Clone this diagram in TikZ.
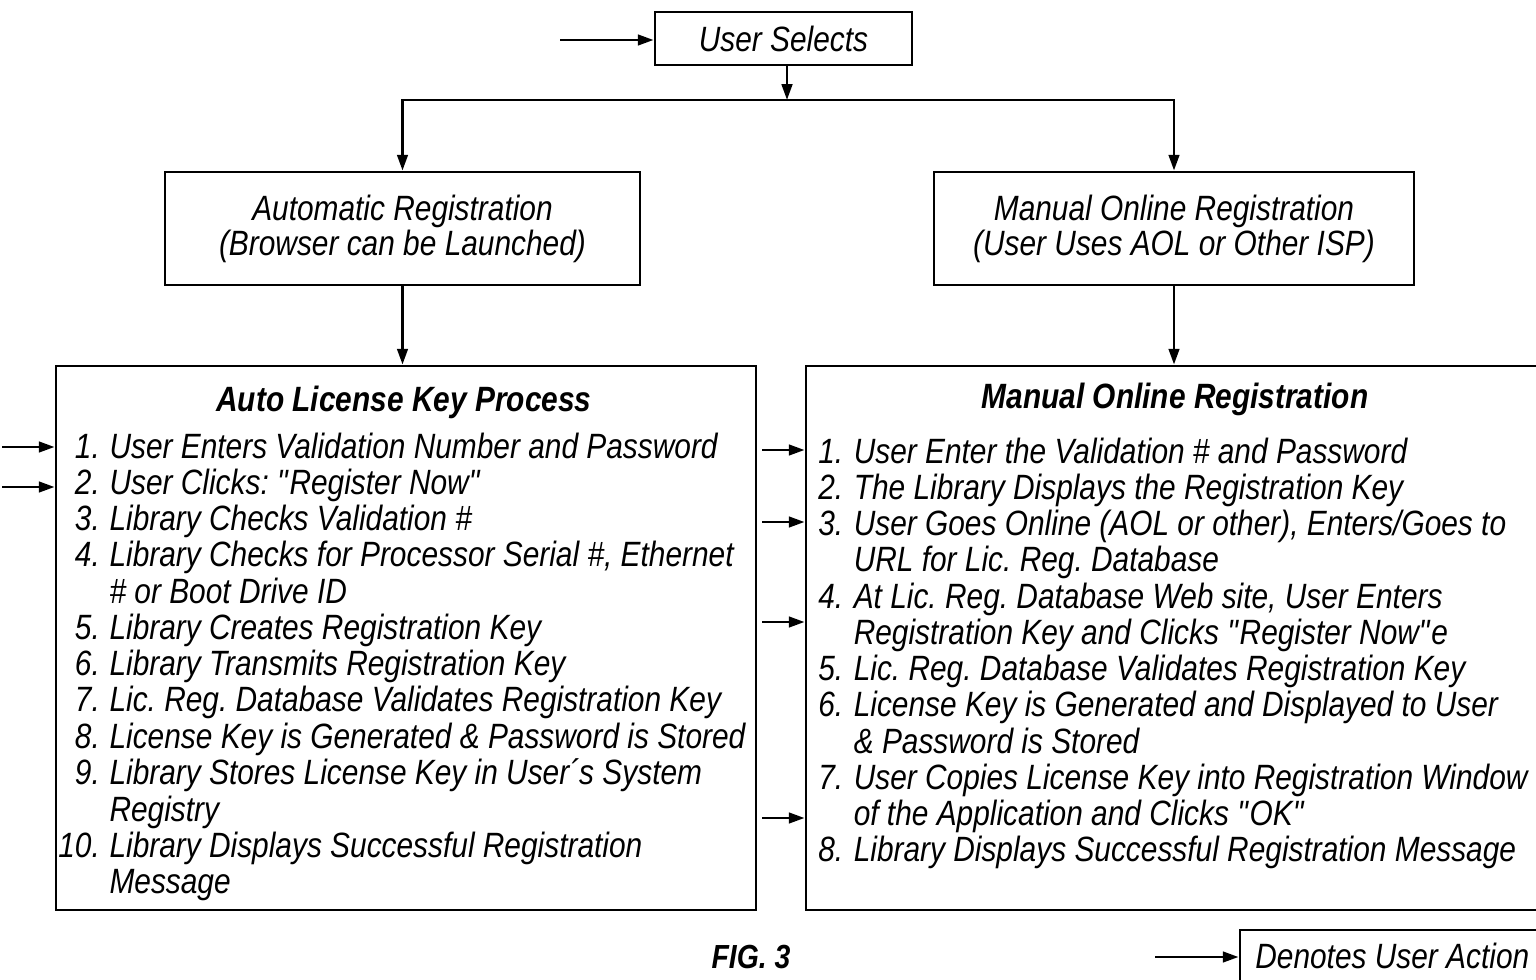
\documentclass[tikz,border=0pt]{standalone}
\usepackage{fontspec}
\setmainfont{Liberation Sans}[FakeStretch=0.85]
\usetikzlibrary{arrows.meta}
\newcommand\px{0.02cm}
\newcommand\qq{\textquotedbl}
\frenchspacing

\begin{document}
\begin{tikzpicture}[x=0.02cm,y=-0.02cm]
        \tikzstyle{box}=[draw,line width=1.6pt,inner sep=0pt,align=center,
        font=\fontsize{20}{20}\selectfont\itshape]
        \tikzstyle{txt}=[inner sep=0pt,font=\fontsize{20}{20.5}\selectfont\itshape]
        \tikzstyle{flow}=[line width=1.6pt,-{Triangle[length=9pt,width=6pt]}]
        \useasboundingbox (0,0) rectangle (1536,980);
        % top of the tree
        \node[box,minimum width=257*\px,minimum height=53*\px] (user) at (783.5,38.5) {User Selects};
        \node[box,minimum width=475*\px,minimum height=113*\px] (autoreg) at (402.5,228.5)
        {Automatic Registration\\(Browser can be Launched)};
        \node[box,minimum width=480*\px,minimum height=113*\px] (manreg) at (1174,228.5)
        {Manual Online Registration\\(User Uses AOL or Other ISP)};
        \coordinate (split) at (787,100);
        \coordinate (usertail) at (560,40);
        \draw[flow] (usertail) -- (user.west |- usertail);
        \draw[flow] (user.south -| split) -- (split);
        \draw[flow] (split) -| (autoreg.north);
        \draw[flow] (split) -| (manreg.north);
        % the two processes
        \node[box,minimum width=700*\px,minimum height=544*\px] (autoproc) at (406,638) {};
        \node[box,minimum width=739*\px,minimum height=544*\px] (manproc) at (1175.5,638) {};
        \draw[flow] (autoreg.south) -- (autoreg.south |- autoproc.north);
        \draw[flow] (manreg.south) -- (manreg.south |- manproc.north);
        \node[txt,anchor=base] (autotitle) at (404,411) {\bfseries Auto License Key Process};
        \node[txt,anchor=base] (mantitle) at (1175,408) {\bfseries Manual Online Registration};
        \node[txt,anchor=base west] (autolist) at (58,458) {\begin{tabular}[t]{@{}r@{\hspace{5.5pt}}l@{}}
        1. & User Enters Validation Number and Password\\
        2. & User Clicks: \qq Register Now\qq\\
        3. & Library Checks Validation \#\\
        4. & Library Checks for Processor Serial \#, Ethernet\\
           & \# or Boot Drive ID\\
        5. & Library Creates Registration Key\\
        6. & Library Transmits Registration Key\\
        7. & Lic. Reg. Database Validates Registration Key\\
        8. & License Key is Generated \& Password is Stored\\
        9. & Library Stores License Key in User´s System\\
           & Registry\\
        10. & Library Displays Successful Registration\\
           & Message
        \end{tabular}};
        \node[txt,anchor=base west] (manlist) at (818,463) {\begin{tabular}[t]{@{}r@{\hspace{6pt}}l@{}}
        1. & User Enter the Validation \# and Password\\
        2. & The Library Displays the Registration Key\\
        3. & User Goes Online (AOL or other), Enters/Goes to\\
           & URL for Lic. Reg. Database\\
        4. & At Lic. Reg. Database Web site, User Enters\\
           & Registration Key and Clicks \qq Register Now\qq e\\
        5. & Lic. Reg. Database Validates Registration Key\\
        6. & License Key is Generated and Displayed to User\\
           & \& Password is Stored\\
        7. & User Copies License Key into Registration Window\\
           & of the Application and Clicks \qq OK\qq\\
        8. & Library Displays Successful Registration Message
        \end{tabular}};
        % user actions
        \foreach \y [count=\i] in {447,487} {
          \coordinate (autoact\i) at (2,\y);
          \draw[flow] (autoact\i) -- (autoact\i -| autoproc.west);
        }
        \foreach \y [count=\i] in {450,522,622,818} {
          \coordinate (manact\i) at (762,\y);
          \draw[flow] (manact\i) -- (manact\i -| manproc.west);
        }
        % caption and legend
        \node[txt,anchor=base,font=\fontsize{19}{22}\selectfont\itshape\bfseries] (fig) at (751,968) {FIG. 3};
        \node[box,minimum width=305*\px,minimum height=60*\px] (legend) at (1392.5,960) {};
        \node[txt,anchor=base west] (legendtxt) at (1255,968) {Denotes User Action};
        \coordinate (legtail) at (1155,957);
        \draw[flow] (legtail) -- (legend.west |- legtail);
      \end{tikzpicture}
\end{document}
